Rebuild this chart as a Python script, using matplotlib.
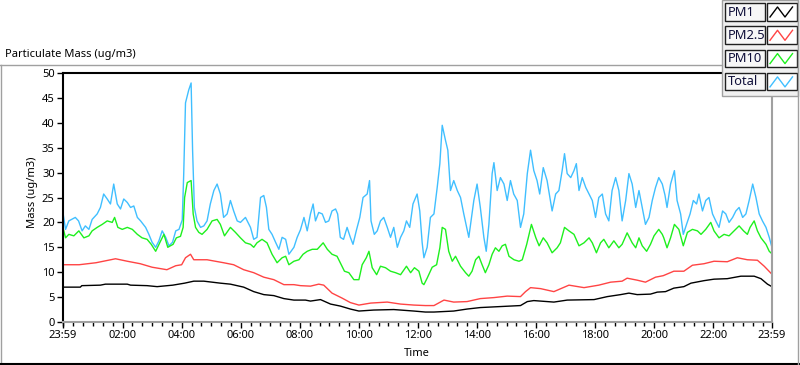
import numpy as np
import matplotlib.pyplot as plt
from matplotlib.ticker import MultipleLocator
from matplotlib.patches import Rectangle

plt.rcParams['font.family'] = ['Noto Sans', 'DejaVu Sans']

# hours since midnight
t_total = [-0.02, 0.07, 0.18, 0.4, 0.51, 0.63, 0.74, 0.86, 0.97, 1.14, 1.25, 1.36, 1.48, 1.59, 1.7, 1.82,
           1.93, 2.04, 2.16, 2.27, 2.38, 2.5, 2.61, 2.78, 2.89, 3.0, 3.12, 3.23, 3.34, 3.46, 3.57, 3.69,
           3.8, 3.91, 4.02, 4.07, 4.13, 4.24, 4.32, 4.37, 4.43, 4.52, 4.64, 4.75, 4.86, 4.97, 5.09, 5.2,
           5.31, 5.42, 5.54, 5.65, 5.76, 5.88, 5.99, 6.16, 6.33, 6.44, 6.55, 6.67, 6.78, 6.87, 6.95, 7.06,
           7.18, 7.29, 7.4, 7.52, 7.63, 7.8, 7.91, 8.02, 8.14, 8.25, 8.36, 8.45, 8.53, 8.64, 8.76, 8.87,
           8.98, 9.09, 9.21, 9.28, 9.37, 9.48, 9.6, 9.71, 9.8, 9.91, 10.03, 10.14, 10.28, 10.36, 10.41,
           10.52, 10.62, 10.73, 10.84, 10.96, 11.07, 11.18, 11.3, 11.41, 11.52, 11.61, 11.72, 11.83, 11.97,
           12.06, 12.14, 12.2, 12.31, 12.42, 12.54, 12.65, 12.74, 12.82, 12.93, 13.01, 13.1, 13.21, 13.33,
           13.44, 13.55, 13.72, 13.89, 14.0, 14.11, 14.23, 14.31, 14.4, 14.51, 14.57, 14.68, 14.79, 14.91,
           15.02, 15.13, 15.24, 15.36, 15.47, 15.58, 15.7, 15.81, 15.92, 16.03, 16.12, 16.24, 16.37, 16.54,
           16.66, 16.77, 16.88, 16.96, 17.05, 17.17, 17.28, 17.36, 17.45, 17.56, 17.68, 17.79, 17.9, 18.01,
           18.12, 18.24, 18.35, 18.46, 18.57, 18.69, 18.8, 18.91, 19.03, 19.14, 19.25, 19.37, 19.48, 19.59,
           19.7, 19.82, 19.93, 20.04, 20.15, 20.27, 20.36, 20.43, 20.55, 20.68, 20.77, 20.89, 20.98, 21.09,
           21.21, 21.32, 21.43, 21.51, 21.63, 21.74, 21.85, 21.97, 22.08, 22.19, 22.31, 22.42, 22.53, 22.65,
           22.76, 22.87, 22.99, 23.1, 23.21, 23.33, 23.44, 23.55, 23.66, 23.78, 23.89, 23.98]
total = [22, 18.6, 20.3, 21, 20.3, 18.3, 19.3, 18.6, 20.6, 21.7, 23, 25.7, 24.7, 23.7, 27.7, 23.7,
         22.7, 24.7, 24, 23, 23.3, 21, 20.3, 19, 17.6, 16, 15, 16.3, 18.3, 17, 15.3, 16,
         18.3, 18.6, 20.5, 29.8, 44, 46.6, 48, 34.5, 23, 20.3, 19, 19.3, 20.3, 23.7, 26.4, 27.7,
         25.7, 21, 21.7, 24.4, 22.3, 20.3, 20, 21, 19, 16.6, 17, 25, 25.4, 23, 18.6, 17.6,
         16, 14.6, 17, 16.6, 13.6, 15, 17, 18.5, 21, 18.3, 21.7, 23.7, 20.3, 22, 21.7, 20,
         20.3, 22.3, 22.7, 21.7, 17, 16.6, 19, 17, 15.6, 18.3, 21, 25, 25.7, 28.4, 20.3,
         17.6, 18.3, 20.3, 21, 19, 17, 19, 15, 17, 18.3, 20.3, 19, 23.7, 25.7,
         22.3, 16, 12.9, 15, 21, 21.7, 27, 31.8, 39.5, 36.5, 34.5, 26.4, 28.4, 26.4,
         25, 21.7, 17, 24.4, 27.7, 23, 17, 14.2, 19.6, 29.8, 32, 26.4, 29, 27.7,
         24.4, 28.4, 25.7, 24.4, 19, 21.7, 29.8, 34.5, 30.4, 28.4, 25.7, 31, 28.4, 22.3,
         25.7, 26.4, 30.4, 33.8, 29.8, 29, 30.4, 31.8, 26.4, 29, 27, 25.7, 24.4, 21,
         25, 25.7, 21.7, 20.3, 26.4, 29, 26.4, 20.3, 24.4, 29.8, 27.7, 23, 26.4, 23,
         19.6, 21, 24.4, 27, 29, 27.7, 25.5, 23, 27.7, 30.4, 24.4, 21.7, 17.6, 19.6,
         21.7, 24.4, 23.7, 25.7, 22.3, 24.4, 25, 21.7, 20.3, 19, 22.3, 21.7, 20, 21,
         22.3, 23, 21, 21.7, 24.4, 27.7, 25, 21.7, 20.3, 19, 17, 15]

t_pm10 = [-0.02, 0.07, 0.18, 0.35, 0.52, 0.69, 0.86, 0.97, 1.14, 1.31, 1.48, 1.65, 1.73, 1.84, 1.99, 2.16,
          2.33, 2.5, 2.66, 2.83, 2.97, 3.12, 3.29, 3.4, 3.53, 3.71, 3.82, 3.96, 4.05, 4.1, 4.19, 4.32,
          4.39, 4.47, 4.58, 4.69, 4.86, 5.03, 5.2, 5.31, 5.45, 5.65, 5.82, 5.99, 6.16, 6.33, 6.44, 6.55,
          6.72, 6.89, 7.06, 7.23, 7.4, 7.52, 7.63, 7.8, 7.97, 8.11, 8.25, 8.42, 8.59, 8.79, 8.93, 9.09,
          9.26, 9.37, 9.51, 9.66, 9.83, 10.0, 10.11, 10.25, 10.34, 10.45, 10.6, 10.73, 10.9, 11.07, 11.24,
          11.41, 11.61, 11.75, 11.88, 12.03, 12.14, 12.2, 12.31, 12.48, 12.63, 12.74, 12.82, 12.93, 13.04,
          13.16, 13.27, 13.44, 13.61, 13.72, 13.83, 13.95, 14.06, 14.17, 14.28, 14.4, 14.51, 14.62, 14.74,
          14.85, 14.96, 15.08, 15.25, 15.42, 15.53, 15.68, 15.84, 15.99, 16.1, 16.24, 16.37, 16.54, 16.71,
          16.82, 16.96, 17.11, 17.28, 17.45, 17.62, 17.79, 17.9, 18.04, 18.18, 18.29, 18.46, 18.63, 18.8,
          18.91, 19.08, 19.25, 19.37, 19.48, 19.59, 19.74, 19.87, 19.99, 20.15, 20.27, 20.32, 20.43, 20.55,
          20.68, 20.83, 20.98, 21.12, 21.29, 21.46, 21.58, 21.74, 21.91, 22.02, 22.19, 22.36, 22.53, 22.7,
          22.87, 23.02, 23.15, 23.24, 23.38, 23.49, 23.61, 23.78, 23.89, 23.98]
pm10 = [19, 16.9, 17.6, 17.3, 18.3, 16.9, 17.3, 18.3, 19, 19.6, 20.3, 20, 21, 19, 18.6, 19,
        18.6, 17.6, 16.9, 16.6, 15.6, 14.2, 16.3, 17.6, 15, 15.6, 16.9, 17.2, 19, 25, 28, 28.4,
        21.7, 19, 18, 17.6, 18.6, 20.3, 20.6, 19.6, 17.3, 19, 18, 16.9, 15.9, 15.6, 15, 15.9,
        16.6, 15.9, 13.6, 11.9, 12.9, 13.2, 11.5, 12.2, 12.5, 13.6, 14.2, 14.6, 14.6, 15.9, 14.6, 13.6,
        13.2, 11.9, 10.2, 9.9, 8.5, 8.5, 11.5, 12.9, 14.2, 10.9, 9.5, 11.2, 10.9, 10.2, 9.9,
        9.5, 11.2, 9.9, 10.9, 10.2, 7.8, 7.5, 8.8, 11, 11.5, 14.9, 19, 18.6, 14.2,
        12.2, 13.2, 11.2, 9.9, 9.2, 10.2, 12.5, 13.2, 11.5, 9.9, 11.5, 13.6, 14.9, 14.2,
        15.3, 15.6, 13.2, 12.5, 12.2, 12.5, 15.6, 19.6, 16.9, 15.3, 16.9, 15.9, 13.9, 14.9,
        15.9, 19, 18.3, 17.6, 15.3, 15.9, 16.9, 15.9, 13.9, 15.9, 16.6, 14.9, 16.3, 14.9,
        15.6, 17.9, 15.9, 14.9, 16.9, 15.3, 14.2, 15.6, 17.3, 18.6, 17.6, 16.9, 14.9, 16.9,
        19.6, 18.6, 15.3, 18, 18.6, 18.3, 17.6, 18.6, 20, 18.3, 16.9, 17.6, 17.3, 18.3,
        19.3, 18.3, 17.6, 19, 20.3, 18.3, 16.9, 15.6, 14.2, 13.7]

t_pm25 = [-0.02, 0.53, 1.1, 1.6, 1.76, 2.16, 2.6, 3.0, 3.3, 3.5, 3.8, 4.0, 4.13, 4.3, 4.41, 4.86,
          5.42, 5.76, 6.1, 6.44, 6.78, 7.12, 7.46, 7.8, 8.02, 8.36, 8.64, 8.81, 9.09, 9.43, 9.71, 10.0,
          10.4, 10.96, 11.41, 11.86, 12.25, 12.54, 12.88, 13.21, 13.66, 14.11, 14.57, 15.02, 15.47, 15.64,
          15.81, 16.15, 16.6, 17.11, 17.62, 18.12, 18.52, 18.91, 19.08, 19.42, 19.7, 20.04, 20.3, 20.66,
          21.0, 21.29, 21.68, 22.02, 22.47, 22.81, 23.15, 23.49, 23.72, 23.98]
pm25 = [11.5, 11.5, 11.9, 12.5, 12.7, 12.2, 11.7, 11, 10.7, 10.5, 11.3, 11.5, 12.9, 13.6, 12.5, 12.5,
        11.9, 11.5, 10.5, 9.9, 9, 8.5, 7.5, 7.5, 7.3, 7.2, 7.6, 7.4, 5.8, 4.8, 3.9, 3.4,
        3.8, 4, 3.6, 3.4, 3.3, 3.3, 4.4, 4, 4.1, 4.7, 4.9, 5.2, 5.1, 6.1,
        6.9, 6.7, 6.1, 7.4, 6.9, 7.4, 8, 8.2, 8.8, 8.4, 8, 9, 9.3, 10.2,
        10.2, 11.4, 11.7, 12.2, 12.1, 12.9, 12.5, 12.4, 11.2, 9.6]

t_pm1 = [-0.02, 0.57, 0.62, 1.25, 1.42, 2.16, 2.27, 2.83, 3.17, 3.7, 4.1, 4.41, 4.75, 5.31, 5.65, 6.1,
         6.44, 6.78, 7.12, 7.46, 7.8, 8.19, 8.36, 8.7, 9.04, 9.37, 9.71, 10.0, 10.5, 11.18, 11.86, 12.25,
         12.54, 13.21, 13.66, 14.11, 14.79, 15.47, 15.7, 15.92, 16.6, 17.05, 17.96, 18.41, 18.86, 19.14,
         19.42, 19.87, 20.1, 20.38, 20.66, 21.0, 21.24, 21.68, 22.02, 22.47, 22.93, 23.38, 23.61, 23.83, 23.98]
pm1 = [7, 7, 7.3, 7.4, 7.6, 7.6, 7.4, 7.3, 7.1, 7.4, 7.8, 8.2, 8.2, 7.8, 7.6, 7,
       6.1, 5.5, 5.3, 4.7, 4.4, 4.4, 4.2, 4.5, 3.6, 3.2, 2.6, 2.2, 2.4, 2.5, 2.2, 2,
       2, 2.2, 2.6, 2.9, 3.1, 3.3, 4.1, 4.3, 4, 4.4, 4.5, 5.1, 5.5, 5.8,
       5.5, 5.6, 6, 6.1, 6.8, 7.1, 7.8, 8.3, 8.6, 8.7, 9.2, 9.2, 8.7, 7.6, 7.1]

names = ['PM1', 'PM2.5', 'PM10', 'Total']
colors = ['black', '#ff4444', '#1ef01e', '#40bfff']
tick_pos = [-1/60, 2, 4, 6, 8, 10, 12, 14, 16, 18, 20, 22, 24 - 1/60]
tick_lab = ['23:59', '02:00', '04:00', '06:00', '08:00', '10:00', '12:00',
            '14:00', '16:00', '18:00', '20:00', '22:00', '23:59']

W, H = 800, 365
fig = plt.figure(figsize=(W / 100, H / 100), dpi=100)

ax = fig.add_axes([63 / W, 1 - 322 / H, (772 - 63) / W, (322 - 73) / H])
ax.plot(t_total, total, color=colors[3], lw=1)
ax.plot(t_pm10, pm10, color=colors[2], lw=1)
ax.plot(t_pm25, pm25, color=colors[1], lw=1)
ax.plot(t_pm1, pm1, color=colors[0], lw=1)

ax.set_xlim(-1/60, 24 - 1/60)
ax.set_ylim(0, 50)
ax.set_xticks(tick_pos)
ax.set_xticklabels(tick_lab)
ax.xaxis.set_minor_locator(MultipleLocator(1/3))
ax.set_yticks(np.arange(0, 51, 5))
ax.tick_params(axis='both', labelsize=8, direction='out', length=4, width=1, pad=2)
ax.tick_params(axis='x', which='minor', length=3, width=1)
for s in ['top', 'left']:
    ax.spines[s].set_color('black')
    ax.spines[s].set_linewidth(1.5)
for s in ['bottom', 'right']:
    ax.spines[s].set_color('#a0a0a0')
    ax.spines[s].set_linewidth(1.5)

# frame, titles and legend, in pixel coordinates
ov = fig.add_axes([0, 0, 1, 1], zorder=5)
ov.set_xlim(0, W)
ov.set_ylim(H, 0)
ov.axis('off')
ov.patch.set_alpha(0)
ov.plot([0, 722], [65, 65], color='#a0a0a0', lw=1)
ov.plot([1, 1], [65, 364], color='#a0a0a0', lw=1)
ov.plot([0, 800], [364, 364], color='black', lw=1.5)
ov.plot([798, 798], [0, 364], color='#a0a0a0', lw=1)
ov.text(5, 55, 'Particulate Mass (ug/m3)', fontsize=8, va='center', ha='left')
ov.text(417, 353, 'Time', fontsize=8, va='center', ha='center')
ov.text(33, 192, 'Mass (ug/m3)', fontsize=8, va='center', ha='center', rotation=90)

ov.add_patch(Rectangle((722, 0), 76, 96, facecolor='#f0f0f0', edgecolor='#a0a0a0', lw=1))
for i, (nm, c) in enumerate(zip(names, colors)):
    y0 = 3 + i * 23.3
    ov.add_patch(Rectangle((725, y0), 40, 17.5, facecolor='#f7f7f7', edgecolor='#202020', lw=1))
    ov.add_patch(Rectangle((767, y0), 30, 17.5, facecolor='white', edgecolor='#202020', lw=1))
    ov.text(727.5, y0 + 9, nm, fontsize=9.3, va='center', ha='left', color='#10103a')
    ov.plot([770, 777.5, 785, 792.5], [y0 + 14, y0 + 4, y0 + 14, y0 + 4], color=c, lw=1)

fig.savefig('out.png', dpi=100)
